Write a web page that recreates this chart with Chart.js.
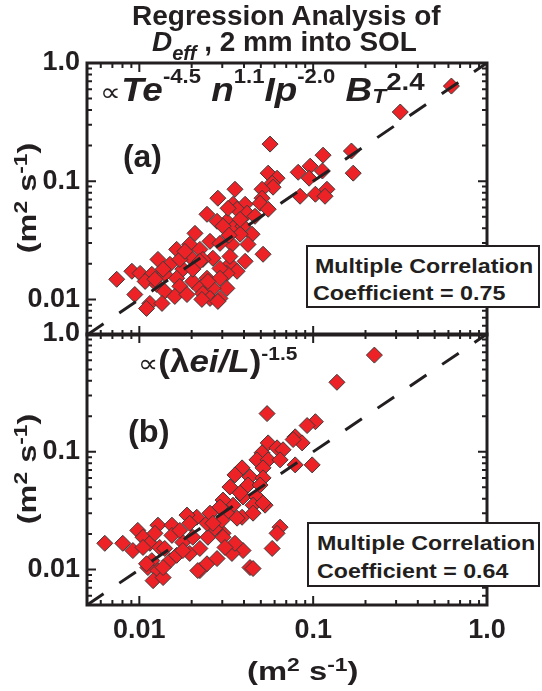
<!DOCTYPE html>
<html lang="en">
<head>
<meta charset="UTF-8">
<title>Regression Analysis of Deff, 2 mm into SOL</title>
<script src="https://cdn.jsdelivr.net/npm/chart.js"></script>
<style>
  body { margin: 0; background: #fff; }
  #fig { position: relative; width: 542px; height: 691px; overflow: hidden;
         font-family: "Liberation Sans", Arial, sans-serif; font-weight: bold; color: #231f20; }
  canvas { position: absolute; left: 0; }
  #cA { top: 0; }
  #cB { top: 300px; }
  .txt { position: absolute; white-space: nowrap; line-height: 1; transform-origin: 0 0; }
  .vtxt { position: absolute; white-space: nowrap; line-height: 1; }
  .sup { position: relative; font-size: 0.6em; top: -0.9em; }
  .sub { position: relative; font-size: 0.72em; top: 0.45em; }
  .subT { position: relative; font-size: 0.62em; top: 0.1em; }
  .prop { font-weight: normal; font-size: 0.8em; }
  .box { position: absolute; background: #fff; border: 2px solid #231f20; box-sizing: border-box; }
</style>
</head>
<body>
<div id="fig">
  <canvas id="cA" width="542" height="360"></canvas>
  <canvas id="cB" width="542" height="391"></canvas>

  <div class="txt" data-l="132" data-r="441" data-b="26" style="font-size:27px">Regression Analysis of</div>
  <div class="txt" data-l="152" data-r="417" data-b="52" style="font-size:27px"><i>D</i><span class="sub"><i>eff</i></span> , 2 mm into SOL</div>

  <div class="txt" data-l="100" data-r="425" data-b="101" style="font-size:33px"><span class="prop">∝</span><i>Te</i><span class="sup">-4.5</span> <i>n</i><span class="sup">1.1</span><i>Ip</i><span class="sup">-2.0</span> <i>B</i><span class="subT"><i>T</i></span><span class="sup" style="font-size:0.75em;top:-0.45em">2.4</span></div>
  <div class="txt" data-l="123" data-r="162" data-b="167" style="font-size:31px">(a)</div>
  <div class="box" style="left:306px;top:245px;width:234px;height:63px"></div>
  <div class="txt" data-l="315" data-r="533" data-b="273" style="font-size:21px">Multiple Correlation</div>
  <div class="txt" data-l="313" data-r="505" data-b="300" style="font-size:21px">Coefficient = 0.75</div>

  <div class="txt" data-l="138" data-r="297" data-b="372" style="font-size:31px"><span class="prop">∝</span>(λ<i>ei/L</i>)<span class="sup" style="top:-0.65em">-1.5</span></div>
  <div class="txt" data-l="128" data-r="170" data-b="442" style="font-size:31px">(b)</div>
  <div class="box" style="left:307px;top:522px;width:233px;height:65px"></div>
  <div class="txt" data-l="317" data-r="535" data-b="550" style="font-size:21px">Multiple Correlation</div>
  <div class="txt" data-l="317" data-r="508" data-b="578" style="font-size:21px">Coefficient = 0.64</div>

  <div class="vtxt" data-cx="27" data-cy="198" data-len="110" style="font-size:26px">(m<span class="sup" style="font-size:0.7em;top:-0.5em">2</span> s<span class="sup" style="font-size:0.7em;top:-0.5em">-1</span>)</div>
  <div class="vtxt" data-cx="27" data-cy="469" data-len="110" style="font-size:26px">(m<span class="sup" style="font-size:0.7em;top:-0.5em">2</span> s<span class="sup" style="font-size:0.7em;top:-0.5em">-1</span>)</div>
  <div class="txt" data-l="247" data-r="358" data-b="680" style="font-size:26px">(m<span class="sup" style="font-size:0.7em;top:-0.5em">2</span> s<span class="sup" style="font-size:0.7em;top:-0.5em">-1</span>)</div>
</div>

<script>
  // axis range and tick labels (both axes, both panels)
  const axisMin = 0.005;
  const axisMax = 1.0;
  const tickValues = [0.01, 0.1, 1];
  const tickLabels = ['0.01', '0.1', '1.0'];

  // panel (a): Te, n, Ip, BT regression vs measured Deff
  const panelAx = [0.624, 0.317, 0.166, 0.170, 0.0565, 0.114, 0.0961, 0.0820, 0.113, 0.0948,
    0.0551, 0.0620, 0.0581, 0.0588, 0.0508, 0.0841, 0.103, 0.120, 0.117, 0.0508,
    0.0495, 0.0355, 0.0346, 0.0406, 0.0365, 0.0417, 0.0319, 0.0346, 0.0395, 0.0445,
    0.0380, 0.0515, 0.0406, 0.0341, 0.0332, 0.0365, 0.0319, 0.0319, 0.0283, 0.0245,
    0.0324, 0.0280, 0.0303, 0.0255, 0.0195, 0.0164, 0.0223, 0.0291, 0.0265, 0.0195,
    0.0128, 0.0150, 0.0178, 0.0232, 0.0291, 0.00906, 0.0101, 0.0118, 0.0140, 0.0164,
    0.0203, 0.0245, 0.0291, 0.00741, 0.0108, 0.0126, 0.0171, 0.0223, 0.0265, 0.00942,
    0.0140, 0.0160, 0.0188, 0.0232, 0.0255, 0.0291, 0.0115, 0.0110, 0.0135, 0.0551,
    0.0223, 0.0171, 0.0203, 0.0137, 0.0123, 0.0248, 0.0229, 0.0283, 0.0332, 0.0209,
    0.0183, 0.0380, 0.0463, 0.0328, 0.0422];
  const panelAy = [0.638, 0.385, 0.180, 0.117, 0.206, 0.166, 0.134, 0.119, 0.122, 0.106,
    0.117, 0.106, 0.0962, 0.0890, 0.0855, 0.0746, 0.0776, 0.0855, 0.0746, 0.0718,
    0.0651, 0.0855, 0.0638, 0.0638, 0.0579, 0.0536, 0.0458, 0.0400, 0.0416, 0.0356,
    0.0356, 0.0241, 0.0210, 0.0292, 0.0198, 0.0173, 0.0166, 0.0124, 0.0718, 0.0525,
    0.0590, 0.0458, 0.0416, 0.0310, 0.0292, 0.0265, 0.0265, 0.0298, 0.0223, 0.0231,
    0.0218, 0.0198, 0.0180, 0.0218, 0.0183, 0.0173, 0.0166, 0.0163, 0.0163, 0.0151,
    0.0142, 0.0151, 0.0151, 0.0148, 0.0142, 0.0134, 0.0129, 0.0124, 0.0124, 0.0110,
    0.0117, 0.0106, 0.0110, 0.0112, 0.0102, 0.0102, 0.00925, 0.00839, 0.00925, 0.0579,
    0.0210, 0.0218, 0.0180, 0.0180, 0.0148, 0.0142, 0.0100, 0.00962, 0.0231, 0.0362,
    0.0255, 0.0476, 0.0505, 0.0349, 0.0292];

  // panel (b): (lambda_ei / L) regression vs measured Deff
  const panelBx = [0.225, 0.137, 0.0543, 0.103, 0.0923, 0.0788, 0.0864, 0.0551, 0.0620, 0.0671,
    0.0508, 0.0475, 0.0551, 0.0645, 0.0788, 0.0987, 0.0390, 0.0515, 0.0355, 0.0433,
    0.0515, 0.0332, 0.0422, 0.0395, 0.0475, 0.0451, 0.0529, 0.0346, 0.0303, 0.0319,
    0.0390, 0.0451, 0.0303, 0.0645, 0.0620, 0.0581, 0.0433, 0.0451, 0.0395, 0.0341,
    0.0355, 0.00633, 0.00803, 0.00918, 0.00980, 0.0105, 0.0115, 0.0128, 0.0154, 0.0123,
    0.0131, 0.0118, 0.0112, 0.0128, 0.0120, 0.0137, 0.0150, 0.0164, 0.0178, 0.0203,
    0.0195, 0.0223, 0.0223, 0.0245, 0.0280, 0.0248, 0.0272, 0.0245, 0.0214, 0.0188,
    0.0255, 0.0291, 0.0299, 0.0303, 0.0311, 0.0154, 0.0171, 0.0380, 0.0495, 0.0195,
    0.0265, 0.0140, 0.0178, 0.0110, 0.0137, 0.0217, 0.0105, 0.0767, 0.0365, 0.0515];
  const panelBy = [0.662, 0.389, 0.211, 0.180, 0.167, 0.134, 0.119, 0.119, 0.108, 0.104,
    0.098, 0.0854, 0.0854, 0.0854, 0.0774, 0.0774, 0.0730, 0.0730, 0.0636, 0.0612,
    0.0600, 0.0502, 0.0522, 0.0413, 0.0413, 0.0352, 0.0352, 0.0352, 0.0389, 0.0301,
    0.0278, 0.0301, 0.0203, 0.0229, 0.0203, 0.0151, 0.0104, 0.0102, 0.0145, 0.0137,
    0.0167, 0.0167, 0.0167, 0.0145, 0.0215, 0.0188, 0.0167, 0.0238, 0.0238, 0.0203,
    0.0154, 0.0119, 0.0104, 0.00980, 0.00805, 0.00855, 0.0119, 0.0132, 0.0170, 0.0188,
    0.0137, 0.0151, 0.00980, 0.0112, 0.0124, 0.0188, 0.0224, 0.0247, 0.0278, 0.0290,
    0.0301, 0.0339, 0.0262, 0.0188, 0.0154, 0.0195, 0.0215, 0.0446, 0.0522, 0.0247,
    0.0247, 0.0151, 0.0145, 0.0112, 0.0104, 0.00980, 0.0154, 0.127, 0.0273, 0.0367];

  const ink = '#231f20';
  const tickFont = { family: '"Liberation Sans", Arial, sans-serif', size: 27, weight: 'bold' };

  // box frame + inward major/minor log ticks on all four sides
  const frameTicks = {
    id: 'frameTicks',
    afterDatasetsDraw(chart) {
      const { ctx, chartArea: a, scales: { x, y } } = chart;
      ctx.save();
      ctx.strokeStyle = ink;
      ctx.lineWidth = 2;
      ctx.beginPath();
      for (let e = -3; e <= 0; e++) {
        for (let m = 1; m <= 9; m++) {
          const v = m * Math.pow(10, e);
          if (v <= axisMin || v > axisMax * 1.0001) continue;
          const len = m === 1 ? 9 : 5;
          const px = x.getPixelForValue(v);
          ctx.moveTo(px, a.bottom); ctx.lineTo(px, a.bottom - len);
          ctx.moveTo(px, a.top); ctx.lineTo(px, a.top + len);
          const py = y.getPixelForValue(v);
          ctx.moveTo(a.left, py); ctx.lineTo(a.left + len, py);
          ctx.moveTo(a.right, py); ctx.lineTo(a.right - len, py);
        }
      }
      ctx.stroke();
      ctx.lineWidth = 3;
      ctx.strokeRect(a.left, a.top, a.right - a.left, a.bottom - a.top);
      ctx.restore();
    }
  };

  function makePanel(id, xs, ys, pad, xAxisHeight, showX) {
    const points = xs.map((v, i) => ({ x: v, y: ys[i] }));
    return new Chart(document.getElementById(id), {
      type: 'scatter',
      data: {
        datasets: [
          { type: 'line', data: [{ x: axisMin, y: axisMin }, { x: axisMax, y: axisMax }],
            borderColor: ink, borderWidth: 3, borderDash: [20, 19], pointRadius: 0, order: 0 },
          { data: points, pointStyle: 'rectRot', pointRadius: 8,
            backgroundColor: '#ec2227', borderColor: '#3b3b3b', borderWidth: 1, order: 1 }
        ]
      },
      options: {
        responsive: false,
        animation: false,
        events: [],
        layout: { padding: pad },
        plugins: { legend: { display: false }, tooltip: { enabled: false } },
        scales: {
          x: {
            type: 'logarithmic', min: axisMin, max: axisMax,
            grid: { display: false, drawTicks: false }, border: { display: false },
            afterBuildTicks: s => { s.ticks = tickValues.map(v => ({ value: v })); },
            afterFit: s => { s.height = xAxisHeight; },
            ticks: { display: showX, padding: 9, autoSkip: false, maxRotation: 0, color: ink, font: tickFont,
                     callback: (v, i) => tickLabels[i] }
          },
          y: {
            type: 'logarithmic', min: axisMin, max: axisMax,
            grid: { display: false, drawTicks: false }, border: { display: false },
            afterBuildTicks: s => { s.ticks = tickValues.map(v => ({ value: v })); },
            afterFit: s => { s.width = 87; },
            ticks: { padding: 7, autoSkip: false, color: ink, font: tickFont,
                     callback: (v, i) => tickLabels[i] }
          }
        }
      },
      plugins: [frameTicks]
    });
  }

  makePanel('cA', panelAx, panelAy, { top: 63, right: 55, bottom: 25, left: 0 }, 0, false);
  makePanel('cB', panelBx, panelBy, { top: 34, right: 55, bottom: 10, left: 0 }, 76, true);

  // place overlay text: stretch each line to the span it covers in the figure
  document.querySelectorAll('.txt').forEach(el => {
    const fs = parseFloat(getComputedStyle(el).fontSize);
    const l = +el.dataset.l, r = +el.dataset.r, b = +el.dataset.b;
    const w = el.offsetWidth;
    el.style.left = l + 'px';
    el.style.top = (b - 0.85 * fs) + 'px';
    el.style.transform = 'scaleX(' + ((r - l) / w).toFixed(3) + ')';
  });
  document.querySelectorAll('.vtxt').forEach(el => {
    const cx = +el.dataset.cx, cy = +el.dataset.cy, len = +el.dataset.len;
    const w = el.offsetWidth, h = el.offsetHeight;
    el.style.left = (cx - w / 2) + 'px';
    el.style.top = (cy - h / 2) + 'px';
    el.style.transform = 'rotate(-90deg) scaleX(' + (len / w).toFixed(3) + ')';
  });
</script>
</body>
</html>
